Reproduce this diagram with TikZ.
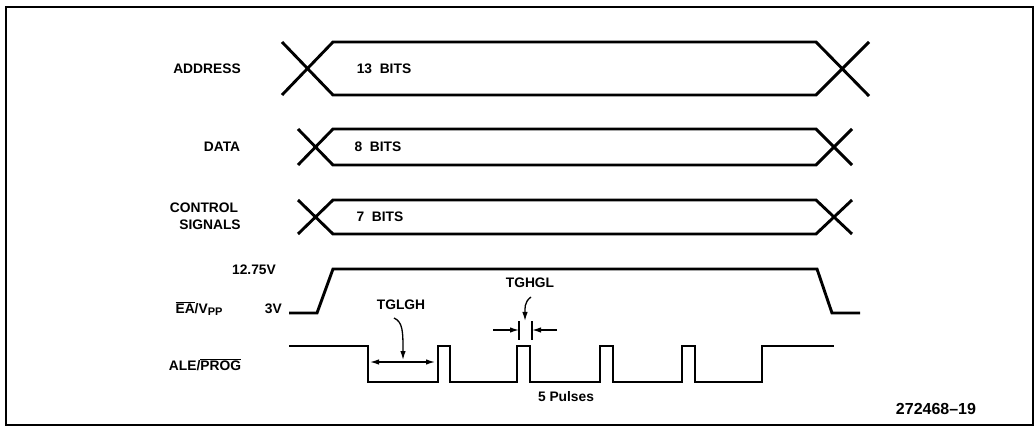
\documentclass[tikz,border=0pt]{standalone}
\usepackage{fontspec}
\setmainfont{Liberation Sans}
\usetikzlibrary{arrows.meta}
\begin{document}
\begin{tikzpicture}[x=1pt,y=-1pt,
  sig/.style={line width=2.9pt,line join=miter},
  lbl/.style={font=\fontsize{13.8}{16}\selectfont\bfseries,inner sep=0pt,align=center},
  dim/.style={line width=1.3pt,-{Latex[length=9pt,width=5.5pt]}},
  tick/.style={line width=1.6pt}]
\useasboundingbox (0,0) rectangle (1035,427);
\draw[line width=1.3pt] (6,7) rectangle (1033,425);
% ADDRESS
\node[lbl] (laddr) at (207,69) {ADDRESS};
\draw[sig] (282,95) -- (333,42) -- (816,42) -- (869,96);
\draw[sig] (282,42) -- (333,95) -- (816,95) -- (869,42);
\node[lbl] (taddr) at (384,69) {13\ \ BITS};
% DATA
\node[lbl] (ldata) at (222,147) {DATA};
\draw[sig] (298,165) -- (333,129) -- (816,129) -- (852,165);
\draw[sig] (298,129) -- (333,165) -- (816,165) -- (852,129);
\node[lbl] (tdata) at (378,147) {8\ \ BITS};
% CONTROL
\node[lbl] (lctl1) at (204,208) {CONTROL};
\node[lbl] (lctl2) at (210,225) {SIGNALS};
\draw[sig] (298,234) -- (333,200) -- (816,200) -- (852,234);
\draw[sig] (298,200) -- (333,234) -- (816,234) -- (852,200);
\node[lbl] (tctl) at (380,217) {7\ \ BITS};
% EA/VPP
\node[lbl] (lea) at (199,309) {$\overline{\mbox{EA}}$/V{\fontsize{11}{12}\selectfont\raisebox{-2.5pt}{PP}}};
\node[lbl] (lhi) at (254,270) {12.75V};
\node[lbl,anchor=east] (llo) at (282,309) {3V};
\draw[sig] (289,313) -- (317,313) -- (333,269) -- (817,269) -- (832,313) -- (860,313);
% ALE/PROG
\node[lbl] (lale) at (205,365) {ALE/$\overline{\mbox{PROG}}$};
\draw[sig] (289,346) -- (368,346) -- (368,382) -- (438,382) -- (438,346) -- (450,346)
  -- (450,382) -- (517,382) -- (517,346) -- (530,346) -- (530,382) -- (600,382)
  -- (600,346) -- (613,346) -- (613,382) -- (682,382) -- (682,346) -- (695,346)
  -- (695,382) -- (762,382) -- (762,346) -- (834,346);
% TGLGH
\node[lbl] (tglgh) at (401,305) {TGLGH};
\coordinate (a1) at (370,362);
\coordinate (a2) at (435,362);
\draw[line width=1.3pt,{Latex[length=9pt,width=5.5pt]}-{Latex[length=9pt,width=5.5pt]}] (a1) -- (a2);
\coordinate (c1) at (394,318);
\coordinate (c2) at (403,360);
\draw[dim] (c1) .. controls (403,322) and (403,332) .. (c2);
% TGHGL
\node[lbl] (tghgl) at (530,283) {TGHGL};
\coordinate (d1) at (531,297);
\coordinate (d2) at (525,321);
\draw[dim] (d1) .. controls (524,302) and (525,309) .. (d2);
\coordinate (k1a) at (519,321); \coordinate (k1b) at (519,340);
\coordinate (k2a) at (532,321); \coordinate (k2b) at (532,340);
\draw[tick] (k1a) -- (k1b);
\draw[tick] (k2a) -- (k2b);
\coordinate (e1) at (493,330); \coordinate (e2) at (519,330);
\coordinate (f1) at (557,330); \coordinate (f2) at (532,330);
\draw[dim] (e1) -- (e2);
\draw[dim] (f1) -- (f2);
% labels
\node[lbl] (pulses) at (566,397) {5 Pulses};
\node[font=\fontsize{16}{18}\selectfont\bfseries,inner sep=0pt] (fig) at (936,409) {272468--19};
\end{tikzpicture}
\end{document}
